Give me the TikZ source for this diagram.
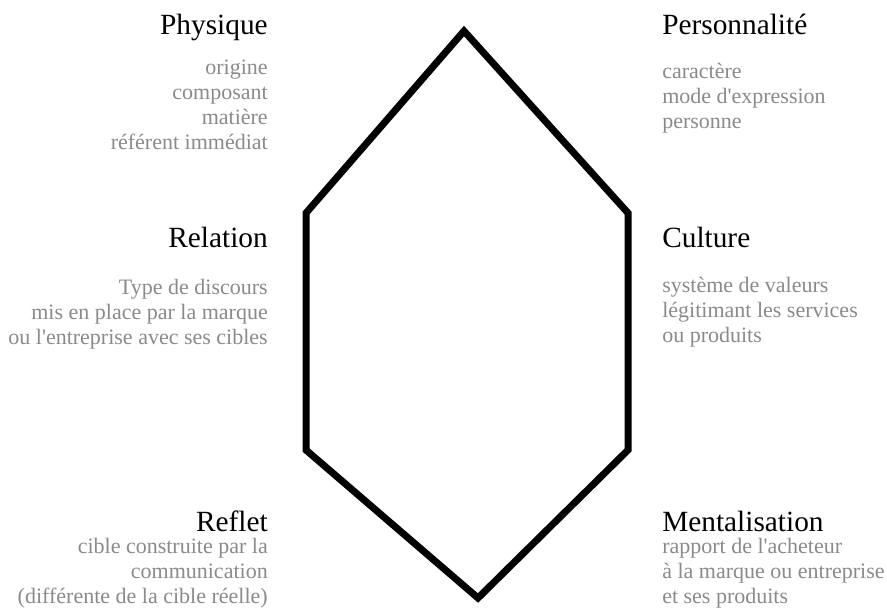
\documentclass[tikz,border=0pt]{standalone}
\usepackage{fontspec}
\setmainfont{Liberation Serif}
\definecolor{notegray}{RGB}{138,138,138}
\begin{document}
\begin{tikzpicture}[x=0.75pt, y=-0.75pt,
    title/.style={font=\fontsize{22}{26}\selectfont, text=black, inner sep=0pt},
    note/.style={font=\fontsize{16.5}{19}\selectfont, text=notegray, inner sep=0pt}]
  \useasboundingbox (0,0) rectangle (887,608);

  % Hexagon
  \coordinate (top) at (464,31);
  \coordinate (ul) at (306,213);
  \coordinate (ll) at (306,450);
  \coordinate (bot) at (478,598);
  \coordinate (lr) at (628,450);
  \coordinate (ur) at (628,213);
  \draw[line width=5.25pt, line join=miter] (top) -- (ul) -- (ll) -- (bot) -- (lr) -- (ur) -- cycle;

  % Left side - labels aligned on the right
  \node[title, anchor=base east] (phys) at (268,34) {Physique};
  \foreach \txt [count=\i] in {origine, composant, matière, référent immédiat}
    \node[note, anchor=base east] (phys-\i) at (268,49+25*\i) {\txt};

  \node[title, anchor=base east] (rel) at (268,247) {Relation};
  \foreach \txt [count=\i] in {Type de discours, mis en place par la marque, ou l\textquotesingle entreprise avec ses cibles}
    \node[note, anchor=base east] (rel-\i) at (268,269+25*\i) {\txt};

  \node[title, anchor=base east] (refl) at (268,531) {Reflet};
  \foreach \txt [count=\i] in {cible construite par la, communication, {(différente de la cible réelle)}}
    \node[note, anchor=base east] (refl-\i) at (268,528+25*\i) {\txt};

  % Right side - labels aligned on the left
  \node[title, anchor=base west] (pers) at (662,34) {Personnalité};
  \foreach \txt [count=\i] in {caractère, mode d\textquotesingle expression, personne}
    \node[note, anchor=base west] (pers-\i) at (662,53+25*\i) {\txt};

  \node[title, anchor=base west] (cult) at (662,247) {Culture};
  \foreach \txt [count=\i] in {système de valeurs, légitimant les services, ou produits}
    \node[note, anchor=base west] (cult-\i) at (662,267+25*\i) {\txt};

  \node[title, anchor=base west] (ment) at (662,531) {Mentalisation};
  \foreach \txt [count=\i] in {rapport de l\textquotesingle acheteur, à la marque ou entreprise, et ses produits}
    \node[note, anchor=base west] (ment-\i) at (662,528+25*\i) {\txt};
\end{tikzpicture}
\end{document}
